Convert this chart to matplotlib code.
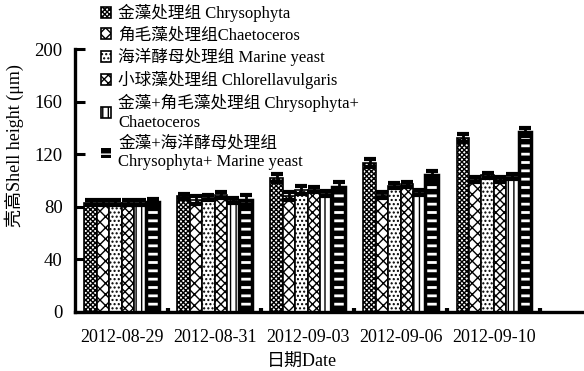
import matplotlib
matplotlib.use("Agg")
import matplotlib.pyplot as plt
import numpy as np

plt.rcParams['font.family'] = ['Liberation Serif', 'Noto Sans CJK SC', 'DejaVu Sans']
plt.rcParams['hatch.linewidth'] = 1.0

dates = ["2012-08-29", "2012-08-31", "2012-09-03", "2012-09-06", "2012-09-10"]
series_labels = [
    "金藻处理组 Chrysophyta",
    "角毛藻处理组Chaetoceros",
    "海洋酵母处理组 Marine yeast",
    "小球藻处理组 Chlorellavulgaris",
    "金藻+角毛藻处理组 Chrysophyta+\nChaetoceros",
    "金藻+海洋酵母处理组\nChrysophyta+ Marine yeast",
]
chrysophyta = [83, 88, 102, 113, 132]
chaetoceros = [83, 85, 88, 89, 101]
marine_yeast = [83, 87, 93, 96, 104]
chlorella = [83, 89, 93, 97, 101]
chry_chae = [83, 85, 90, 91, 103]
chry_yeast = [84, 85, 95, 104, 137]
err_chrysophyta = [2, 2, 3, 3, 3]
err_chaetoceros = [2, 3, 3, 2, 2]
err_marine_yeast = [2, 2, 3, 2, 2]
err_chlorella = [2, 2, 2, 2, 2]
err_chry_chae = [2, 2, 2, 2, 2]
err_chry_yeast = [2, 4, 4, 3, 3]
y_ticks = [0, 40, 80, 120, 160, 200]

values = [chrysophyta, chaetoceros, marine_yeast, chlorella, chry_chae, chry_yeast]
errors = [err_chrysophyta, err_chaetoceros, err_marine_yeast, err_chlorella, err_chry_chae, err_chry_yeast]
hatches = ['xxxxxxx', 'xxx', '....', 'xxxx', '|||', '--']

fig = plt.figure(figsize=(5.84, 3.71), dpi=100)
ax = fig.add_axes([75/584, 1-312/371, 1-75/584, (312-49)/371])

x = np.arange(len(dates))
w = 0.1333
for i, (vals, errs) in enumerate(zip(values, errors)):
    pos = x + (i - 2.5) * w
    if i == 5:
        plt.rcParams['hatch.linewidth'] = 2.0
        ax.bar(pos, vals, w, color='black', edgecolor='white', hatch=hatches[i],
               linewidth=0.01, label=series_labels[i], zorder=2)
        plt.rcParams['hatch.linewidth'] = 1.0
        ax.bar(pos, vals, w, fill=False, edgecolor='black', linewidth=2.5, zorder=3)
    else:
        ax.bar(pos, vals, w, color='white', edgecolor='black', hatch=hatches[i],
               linewidth=1.2, label=series_labels[i], zorder=2)
    ax.errorbar(pos, vals, yerr=errs, fmt='none', ecolor='black', elinewidth=2.0,
                capsize=4, capthick=3, zorder=4)

ax.set_xlim(-0.5, 4.97)
ax.set_ylim(0, 200)
ax.set_yticks(y_ticks)
ax.set_xticks(x)
ax.set_xticklabels(dates)
ax.set_xticks(np.arange(0.5, 5, 1.0), minor=True)
ax.tick_params(axis='x', which='major', length=0, labelsize=13, pad=12)
ax.tick_params(axis='x', which='minor', direction='in', length=3, width=3)
ax.tick_params(axis='y', direction='in', length=7, width=2.2, labelsize=13.5, pad=9)
for s in ['top', 'right']:
    ax.spines[s].set_visible(False)
for s in ['left', 'bottom']:
    ax.spines[s].set_linewidth(2.4)

ax.set_xlabel("日期Date", fontsize=13)
ax.xaxis.set_label_coords((302-75)/(584-75), -0.16)
ax.set_ylabel("壳高Shell height (μm)", fontsize=13)
ax.yaxis.set_label_coords((24-75)/(584-75), (312-146)/263)

handles, labels = ax.get_legend_handles_labels()
leg = fig.legend(handles, labels, loc='upper left', bbox_to_anchor=(101/584, 1-4/371),
                 frameon=False, fontsize=12, handlelength=0.6, handleheight=0.6,
                 handletextpad=0.45, labelspacing=0.3, borderpad=0, borderaxespad=0)

fig.savefig("out.png", dpi=100)
